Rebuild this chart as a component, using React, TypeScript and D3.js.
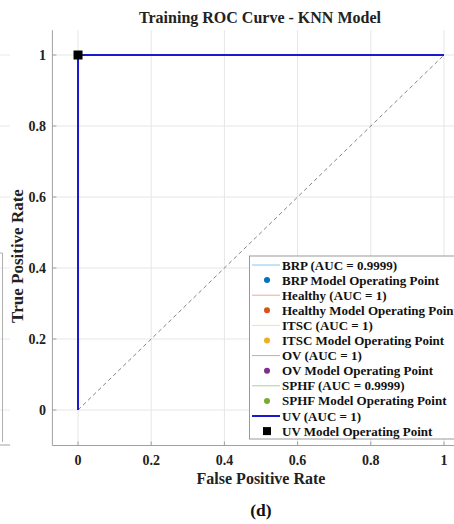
import React from "react";
import * as d3 from "d3";

const width = 454;
const height = 524;

const classes = ["BRP", "Healthy", "ITSC", "OV", "SPHF", "UV"];
const aucs = ["0.9999", "1", "1", "1", "0.9999", "1"];
const lineColors = ["#8cc8ee", "#f2a98f", "#f7dfa8", "#cba3cc", "#b3cd93", "#1a1acc"];
const pointColors = ["#0072BD", "#D95319", "#EDB120", "#7E2F8E", "#77AC30", "#000000"];

// roc points per class (fpr, tpr)
const rocFpr = [0, 0, 1];
const rocTpr = [0, 1, 1];
const opFpr = [0, 0, 0, 0, 0, 0];
const opTpr = [1, 1, 1, 1, 1, 1];

const ticks = [0, 0.2, 0.4, 0.6, 0.8, 1];

const font = "'Liberation Serif', 'Times New Roman', serif";

export default function App() {
  const x = d3.scaleLinear().domain([-0.07, 1.07]).range([52.4, 469.6]);
  const y = d3.scaleLinear().domain([-0.1, 1.07]).range([445.5, 30.15]);

  const line = d3
    .line<number>()
    .x((_, i) => x(rocFpr[i]))
    .y((_, i) => y(rocTpr[i]));

  const left = x(-0.07);
  const bottom = y(-0.1);
  const top = y(1.07);

  const legendX = 249.5;
  const legendY = 256;
  const rowH = 15.1;

  return (
    <svg
      width={width}
      height={height}
      style={{ position: "absolute", left: 0, top: 0, background: "#fff" }}
      fontFamily={font}
    >
      {/* leftover of the neighbouring panel */}
      <g stroke="#e8e8e8">
        {ticks.map(t => (
          <line key={t} x1={0} x2={10} y1={y(t)} y2={y(t)} />
        ))}
      </g>
      <line x1={2.5} x2={2.5} y1={253} y2={442} stroke="#b0b0b0" />
      <line x1={0} x2={2.5} y1={253} y2={253} stroke="#b0b0b0" />
      <line x1={0} x2={10} y1={445} y2={445} stroke="#a0a0a0" />
      <text x={23} y={256} transform="rotate(-90 23 256)" textAnchor="middle" fontSize={17} fontWeight="bold" fill="#222">
        True Positive Rate
      </text>

      {/* grid */}
      <g stroke="#e6e6e6">
        {ticks.map(t => (
          <line key={"gx" + t} x1={x(t)} x2={x(t)} y1={top} y2={bottom} />
        ))}
        {ticks.map(t => (
          <line key={"gy" + t} x1={left} x2={width} y1={y(t)} y2={y(t)} />
        ))}
      </g>

      {/* chance line */}
      <line
        x1={x(0)}
        y1={y(0)}
        x2={x(1)}
        y2={y(1)}
        stroke="#666"
        strokeWidth={0.8}
        strokeDasharray="4,3"
      />

      {/* roc curves */}
      {classes.map((c, i) => (
        <path
          key={c}
          d={line(rocFpr) as string}
          fill="none"
          stroke={lineColors[i]}
          strokeWidth={c === "UV" ? 2 : 1}
        />
      ))}

      {/* operating points */}
      {classes.map((c, i) =>
        c === "UV" ? (
          <rect key={c} x={x(opFpr[i]) - 4.5} y={y(opTpr[i]) - 4.5} width={9} height={9} fill="#000" />
        ) : (
          <circle key={c} cx={x(opFpr[i])} cy={y(opTpr[i])} r={3} fill={pointColors[i]} />
        )
      )}

      {/* axes */}
      <line x1={left} x2={left} y1={top} y2={bottom} stroke="#a0a0a0" />
      <line x1={left} x2={width} y1={bottom} y2={bottom} stroke="#a0a0a0" />
      <g stroke="#a0a0a0">
        {ticks.map(t => (
          <line key={"tx" + t} x1={x(t)} x2={x(t)} y1={bottom} y2={bottom - 4} />
        ))}
        {ticks.map(t => (
          <line key={"ty" + t} x1={left} x2={left + 4} y1={y(t)} y2={y(t)} />
        ))}
      </g>
      <g fontSize={14} fontWeight="bold" fill="#222">
        {ticks.map(t => (
          <text key={"lx" + t} x={x(t)} y={465} textAnchor="middle">
            {d3.format("~g")(t)}
          </text>
        ))}
        {ticks.map(t => (
          <text key={"ly" + t} x={46} y={y(t) + 5} textAnchor="end">
            {d3.format("~g")(t)}
          </text>
        ))}
      </g>

      <text x={260} y={23} textAnchor="middle" fontSize={16} fontWeight="bold" fill="#222">
        Training ROC Curve - KNN Model
      </text>
      <text x={261} y={484} textAnchor="middle" fontSize={16} fontWeight="bold" fill="#222">
        False Positive Rate
      </text>
      <text x={261} y={516} textAnchor="middle" fontSize={17.5} fontWeight="bold" fill="#111">
        (d)
      </text>

      {/* legend */}
      <rect x={legendX} y={legendY} width={width} height={183} fill="#fff" stroke="#9a9a9a" />
      <g fontSize={13} fontWeight="bold" fill="#111">
        {classes.map((c, i) => {
          const y1 = legendY + 9 + i * 2 * rowH;
          const y2 = y1 + rowH;
          return (
            <g key={c}>
              <line x1={252} x2={280} y1={y1} y2={y1} stroke={lineColors[i]} strokeWidth={c === "UV" ? 2 : 1} />
              <text x={282} y={y1 + 4.5}>{`${c} (AUC = ${aucs[i]})`}</text>
              {c === "UV" ? (
                <rect x={263} y={y2 - 4} width={8} height={8} fill="#000" />
              ) : (
                <circle cx={267} cy={y2} r={3} fill={pointColors[i]} />
              )}
              <text x={282} y={y2 + 4.5}>{`${c} Model Operating Point`}</text>
            </g>
          );
        })}
      </g>
    </svg>
  );
}
